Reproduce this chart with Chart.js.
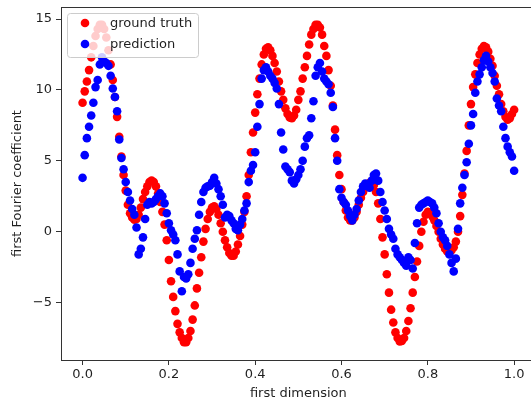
<!DOCTYPE html>
<html>
<head>
<meta charset="utf-8">
<script src="https://cdn.jsdelivr.net/npm/chart.js@4/dist/chart.umd.min.js"></script>
<style>
  html, body { margin: 0; padding: 0; background: #fff; overflow: hidden; }
  #wrap { width: 531px; height: 405px; overflow: hidden; }
</style>
</head>
<body>
<div id="wrap"><canvas id="myChart" width="540" height="405" style="width:540px;height:405px"></canvas></div>
<script>
// samples taken every 0.005 along the first dimension, 0.0 .. 1.0
const X_STEP = 0.005;

const groundTruth = [
  9.1, 9.9, 10.6, 11.4, 12.3, 13.1, 13.8, 14.3, 14.6, 14.6,
  14.3, 13.7, 12.8, 11.8, 10.7, 9.5, 8.1, 6.7, 5.3, 4.0,
  2.9, 1.9, 1.3, 1.0, 0.85, 0.9, 1.2, 1.7, 2.3, 2.8,
  3.2, 3.5, 3.6, 3.5, 3.2, 2.7, 2.1, 1.4, 0.5, -0.6,
  -2.0, -3.5, -4.6, -5.6, -6.5, -7.1, -7.5, -7.8, -7.8, -7.5,
  -7.0, -6.2, -5.2, -4.0, -2.9, -1.8, -0.7, 0.2, 0.9, 1.4,
  1.7, 1.8, 1.6, 1.2, 0.6, 0.0, -0.6, -1.1, -1.5, -1.7,
  -1.7, -1.4, -0.9, -0.3, 0.5, 1.4, 2.5, 4.0, 5.6, 7.0,
  8.4, 9.7, 10.8, 11.8, 12.5, 12.9, 13.0, 12.8, 12.4, 11.9,
  11.3, 10.6, 9.9, 9.3, 8.7, 8.3, 8.05, 8.0, 8.2, 8.6,
  9.3, 9.9, 10.8, 11.6, 12.4, 13.2, 13.9, 14.3, 14.6, 14.6,
  14.4, 13.9, 13.1, 12.4, 11.4, 10.3, 8.9, 7.2, 5.4, 4.0,
  3.0, 2.1, 1.5, 1.0, 0.8, 0.8, 1.0, 1.4, 1.9, 2.4,
  2.8, 3.1, 3.3, 3.45, 3.5, 3.3, 2.8, 2.0, 0.9, -0.4,
  -1.6, -3.0, -4.3, -5.5, -6.4, -7.1, -7.5, -7.75, -7.7, -7.5,
  -7.0, -6.3, -5.4, -4.3, -3.2, -2.1, -1.0, 0.0, 0.7, 1.2,
  1.4, 1.35, 1.1, 0.8, 0.4, 0.0, -0.5, -0.9, -1.2, -1.4,
  -1.4, -1.3, -1.1, -0.7, 0.0, 1.1, 2.6, 4.1, 5.7, 7.5,
  9.0, 10.2, 11.1, 11.9, 12.5, 12.9, 13.1, 13.0, 12.7, 12.2,
  11.7, 11.0, 10.3, 9.7, 9.0, 8.5, 8.1, 7.9, 8.0, 8.3,
  8.6
];

const prediction = [
  3.8, 5.4, 6.6, 7.4, 8.2, 9.1, 10.2, 10.7, 11.8, 12.3,
  12.0, 11.9, 11.7, 11.0, 10.1, 9.5, 8.5, 6.5, 5.2, 4.4,
  3.5, 2.8, 2.2, 1.6, 1.2, 0.3, -1.6, -1.2, -0.4, 0.9,
  1.9, 2.1, 2.0, 2.1, 2.3, 2.5, 2.7, 2.5, 2.0, 1.3,
  0.6, 0.1, -0.2, -0.6, -1.6, -2.8, -4.2, -3.2, -3.3, -3.0,
  -2.2, -1.2, -0.5, 0.1, 1.2, 2.1, 2.8, 3.1, 3.2, 3.25,
  3.5, 3.8, 3.4, 3.0, 2.5, 1.9, 1.0, 1.2, 1.1, 0.8,
  0.6, 0.2, 0.1, 0.5, 0.9, 1.5, 2.0, 3.5, 4.3, 4.7,
  5.6, 7.4, 9.0, 10.8, 11.4, 11.6, 11.3, 11.0, 10.8, 10.5,
  10.1, 9.0, 7.0, 5.8, 4.6, 4.4, 4.2, 3.6, 3.4, 3.7,
  4.0, 4.4, 5.0, 6.0, 6.6, 6.8, 8.0, 9.2, 11.0, 11.6,
  11.9, 11.3, 10.8, 10.6, 10.4, 9.8, 8.8, 6.6, 5.0, 3.0,
  2.4, 2.1, 1.9, 1.5, 1.1, 0.8, 1.2, 1.6, 2.2, 2.8,
  3.2, 3.4, 3.3, 3.1, 3.6, 4.0, 4.1, 3.6, 2.8, 2.1,
  1.5, 0.9, 0.2, -0.2, -0.5, -1.2, -1.6, -1.8, -2.0, -2.2,
  -2.4, -1.8, -2.0, -2.6, -0.8, 0.6, 1.7, 1.9, 2.0, 2.1,
  2.2, 2.1, 2.0, 1.7, 1.3, 0.6, 0.0, -0.4, -0.6, -1.0,
  -1.6, -2.2, -2.8, -1.9, 0.2, 2.0, 3.1, 4.0, 4.9, 6.2,
  7.5, 8.3, 9.8, 10.6, 11.1, 11.6, 12.1, 12.4, 12.0, 11.6,
  11.2, 10.6, 9.4, 8.9, 8.5, 7.4, 6.6, 6.0, 5.6, 5.3,
  4.3
];

const xTicks = [0.0, 0.2, 0.4, 0.6, 0.8, 1.0];
const yTicks = [-5, 0, 5, 10, 15];

const toPoints = (ys) => ys.map((y, i) => ({ x: i * X_STEP, y: y }));

const FONT = '"DejaVu Sans", sans-serif';
const INK = '#1f1f1f';

// box around the plot + legend with a translucent white face
const frameAndLegend = {
  id: 'frameAndLegend',
  afterDatasetsDraw(chart) {
    const ctx = chart.ctx;
    const a = chart.chartArea;
    ctx.save();
    ctx.strokeStyle = '#333';
    ctx.lineWidth = 1;
    ctx.strokeRect(Math.round(a.left) + 0.5, Math.round(a.top) + 0.5,
      Math.round(a.right - a.left), Math.round(a.bottom - a.top));

    const bx = a.left + 6, by = a.top + 6, bw = 131, bh = 44;
    ctx.beginPath();
    ctx.roundRect(bx + 0.5, by + 0.5, bw, bh, 3);
    ctx.fillStyle = 'rgba(255,255,255,0.8)';
    ctx.fill();
    ctx.strokeStyle = '#cccccc';
    ctx.stroke();

    ctx.font = '13px ' + FONT;
    ctx.textBaseline = 'middle';
    chart.data.datasets.forEach((ds, i) => {
      const cy = by + 10 + i * 21;
      ctx.beginPath();
      ctx.arc(bx + 18, cy, 4.3, 0, Math.PI * 2);
      ctx.fillStyle = ds.backgroundColor;
      ctx.fill();
      ctx.fillStyle = INK;
      ctx.fillText(ds.label, bx + 43, cy + 1);
    });
    ctx.restore();
  }
};

const ctx = document.querySelector('#myChart').getContext('2d');

// eslint-disable-next-line no-undef
const chart = new Chart(ctx, {
  type: 'scatter',
  data: {
    datasets: [{
      label: 'ground truth',
      data: toPoints(groundTruth),
      backgroundColor: '#ff0000',
      borderColor: '#ff0000',
      order: 2,
    },
    {
      label: 'prediction',
      data: toPoints(prediction),
      backgroundColor: '#0000ff',
      borderColor: '#0000ff',
      order: 1,
    }]
  },
  options: {
    responsive: false,
    animation: false,
    events: [],
    layout: { padding: { top: 7, right: 4, bottom: 0, left: 0 } },
    elements: { point: { radius: 4.3, borderWidth: 0, hoverRadius: 4.3 } },
    plugins: {
      legend: { display: false },
      tooltip: { enabled: false },
    },
    scales: {
      x: {
        type: 'linear',
        min: -0.05,
        max: 1.05,
        afterFit: (s) => { s.height = 45; s.paddingLeft = 0; s.paddingRight = 0; },
        afterBuildTicks: (s) => { s.ticks = xTicks.map(v => ({ value: v })); },
        border: { display: false },
        grid: { drawOnChartArea: false, drawTicks: true, tickLength: 5, color: '#333' },
        ticks: {
          padding: 2,
          color: INK,
          font: { family: FONT, size: 13 },
          maxRotation: 0,
          callback: (v) => v.toFixed(1),
        },
        title: {
          display: true,
          text: 'first dimension',
          color: INK,
          font: { family: FONT, size: 13 },
          padding: { top: 0, bottom: 4 },
        },
      },
      y: {
        min: -9.05,
        max: 15.85,
        afterFit: (s) => { s.width = 61; s.paddingTop = 0; s.paddingBottom = 0; },
        afterBuildTicks: (s) => { s.ticks = yTicks.map(v => ({ value: v })); },
        border: { display: false },
        grid: { drawOnChartArea: false, drawTicks: true, tickLength: 5, color: '#333' },
        ticks: {
          padding: 4,
          color: INK,
          font: { family: FONT, size: 13 },
          callback: (v) => (v < 0 ? '\u2212' + Math.abs(v) : String(v)),
        },
        title: {
          display: true,
          text: 'first Fourier coefficient',
          color: INK,
          font: { family: FONT, size: 13 },
          padding: { top: 10, bottom: 0 },
        },
      },
    },
  },
  plugins: [frameAndLegend],
});
</script>
</body>
</html>
